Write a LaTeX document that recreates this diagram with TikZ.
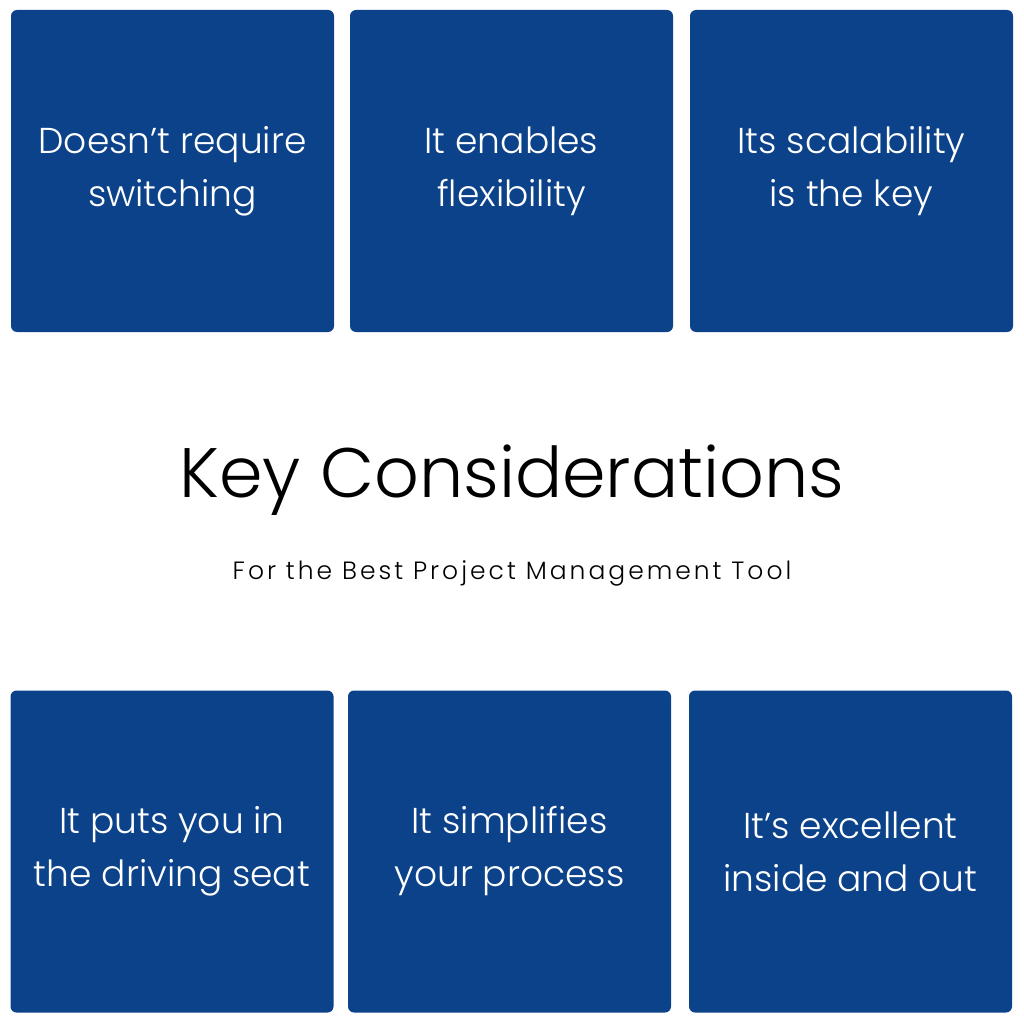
\documentclass[tikz,border=0pt]{standalone}
\usepackage{fontspec}
\setmainfont{Poppins}[UprightFont=* Light]
\usetikzlibrary{positioning}
\definecolor{boxblue}{RGB}{12,66,138}

\begin{document}
\begin{tikzpicture}[x=1pt, y=-1pt,
    card/.style={fill=boxblue, rounded corners=6pt, minimum width=323pt, minimum height=322pt, inner sep=0pt},
    cardtext/.style={text=white, font=\fontsize{36}{53}\selectfont, align=center}]
\useasboundingbox (0,0) rectangle (1024,1024);
% Top row
\node[card] (c1) at (172.5,171) {};
\node[card] (c2) at (511.5,171) {};
\node[card] (c3) at (851.5,171) {};
% Bottom row
\node[card] (c4) at (172,851.5) {};
\node[card] (c5) at (509.5,851.5) {};
\node[card] (c6) at (850.5,851.5) {};
% Card texts
\node[cardtext] at (c1) {Doesn’t require\\switching};
\node[cardtext] at (c2) {It enables\\flexibility};
\node[cardtext] at (c3) {Its scalability\\is the key};
\node[cardtext] at (c4) {It puts you in\\the driving seat};
\node[cardtext] at (c5) {It simplifies\\your process};
\node[cardtext] at (c6) {It’s excellent\\inside and out};
% Title
\node[font=\fontsize{70}{80}\selectfont] (title) at (512,480) {Key Considerations};
\node[font=\fontsize{25}{30}\selectfont\addfontfeature{LetterSpace=12}] (sub) at (512,573) {For the Best Project Management Tool};
\end{tikzpicture}
\end{document}
